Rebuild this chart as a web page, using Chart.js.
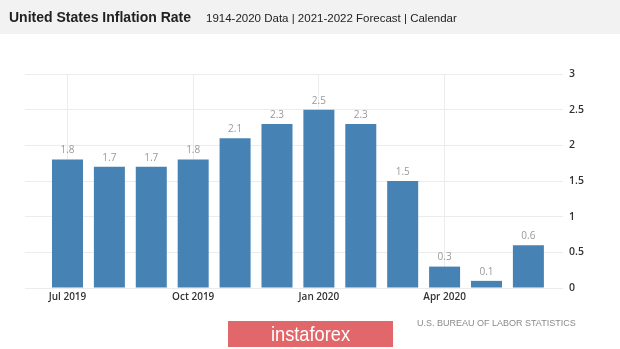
<!DOCTYPE html>
<html>
<head>
<meta charset="utf-8">
<script src="https://cdn.jsdelivr.net/npm/chart.js@4"></script>
<style>
  html, body { margin: 0; padding: 0; }
  body { width: 620px; height: 349px; position: relative; overflow: hidden; background: #ffffff; font-family: "Liberation Sans", Arial, sans-serif; }
  #hdr { position: absolute; left: 0; top: 0; width: 620px; height: 34px; background: #f2f2f2; z-index: 0; }
  #title { position: absolute; left: 9px; top: 10px; font-size: 14px; line-height: 14px; font-weight: bold; color: #222; white-space: nowrap; z-index: 2; }
  #sub { position: absolute; left: 206px; top: 12px; font-size: 11.5px; line-height: 12px; color: #222; white-space: nowrap; z-index: 2; }
  #wrap { position: absolute; left: 0; top: 0; width: 620px; height: 349px; z-index: 1; }
  #src { position: absolute; left: 417px; top: 318px; font-size: 9px; line-height: 10px; color: #8a8a8a; white-space: nowrap; z-index: 2; }
  #logo { position: absolute; left: 228px; top: 321px; width: 165px; height: 26px; background: #e1676a; color: #fff; font-size: 21px; line-height: 26px; text-align: center; z-index: 2; }
  #logo span { display: inline-block; transform: scaleX(0.87); transform-origin: center; }
</style>
</head>
<body>
<div id="hdr"></div>
<div id="title">United States Inflation Rate</div>
<div id="sub">1914-2020 Data | 2021-2022 Forecast | Calendar</div>
<div id="wrap"><canvas id="c" width="620" height="349"></canvas></div>
<div id="src">U.S. BUREAU OF LABOR STATISTICS</div>
<div id="logo"><span>instaforex</span></div>
<script>
const months = ['Jul 2019','Aug 2019','Sep 2019','Oct 2019','Nov 2019','Dec 2019','Jan 2020','Feb 2020','Mar 2020','Apr 2020','May 2020','Jun 2020'];
const inflation = [1.8, 1.7, 1.7, 1.8, 2.1, 2.3, 2.5, 2.3, 1.5, 0.3, 0.1, 0.6];
const xTickLabels = ['Jul 2019','Oct 2019','Jan 2020','Apr 2020'];
const yTicks = [0, 0.5, 1, 1.5, 2, 2.5, 3];

const points = inflation.map((v, i) => ({ x: i, y: v }));
const tickIdx = xTickLabels.map(l => months.indexOf(l));

const valueLabels = {
  id: 'valueLabels',
  afterDatasetsDraw(chart) {
    const ctx = chart.ctx;
    const meta = chart.getDatasetMeta(0);
    ctx.save();
    ctx.font = '10px "Open Sans", "Liberation Sans", Arial, sans-serif';
    ctx.fillStyle = '#999999';
    ctx.textAlign = 'center';
    ctx.textBaseline = 'bottom';
    meta.data.forEach((bar, i) => {
      ctx.fillText(String(inflation[i]), bar.x, bar.y - 4);
    });
    ctx.restore();
  }
};

new Chart(document.getElementById('c'), {
  type: 'bar',
  data: {
    datasets: [{
      data: points,
      backgroundColor: '#4682b4',
      borderWidth: 0,
      categoryPercentage: 1,
      barPercentage: 0.74
    }]
  },
  options: {
    responsive: false,
    animation: false,
    devicePixelRatio: 1,
    layout: { padding: { left: 25, top: 74, right: 0, bottom: 41 } },
    plugins: { legend: { display: false }, tooltip: { enabled: false } },
    scales: {
      x: {
        type: 'linear',
        offset: false,
        min: -1.014,
        max: 11.826,
        afterBuildTicks(scale) { scale.ticks = tickIdx.map(v => ({ value: v })); },
        afterFit(scale) { scale.height = 20; },
        grid: { color: '#ececec', drawTicks: false, offset: false },
        border: { display: false },
        ticks: {
          autoSkip: false,
          maxRotation: 0,
          padding: 3,
          color: '#333333',
          font: { family: '"Open Sans", "Liberation Sans", Arial, sans-serif', size: 10, weight: '600' },
          callback(value) { return months[value] || ''; }
        }
      },
      y: {
        position: 'right',
        min: 0,
        max: 3,
        afterBuildTicks(scale) { scale.ticks = yTicks.map(v => ({ value: v })); },
        afterFit(scale) { scale.width = 57; },
        grid: { color: '#ececec', drawTicks: false },
        border: { display: false },
        ticks: {
          padding: 6,
          color: '#333333',
          font: { family: '"Open Sans", "Liberation Sans", Arial, sans-serif', size: 10.5, weight: '600' },
          callback(value) { return String(value); }
        }
      }
    }
  },
  plugins: [valueLabels]
});
</script>
</body>
</html>
